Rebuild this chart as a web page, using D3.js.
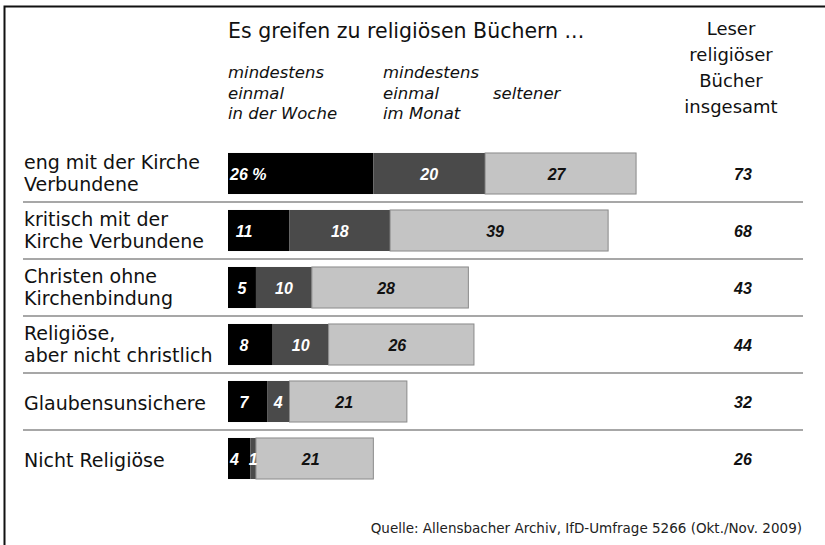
<!DOCTYPE html>
<html>
<head>
<meta charset="utf-8">
<script src="https://cdn.jsdelivr.net/npm/d3@7"></script>
<style>
  html, body { margin: 0; background: #fff; overflow: hidden; }
  svg { display: block; }
  svg text { font-family: "DejaVu Sans", sans-serif; }
  .val { font-family: "Liberation Sans", Arial, sans-serif; font-weight: bold; font-style: italic; font-size: 16px; }
</style>
</head>
<body>
<div class="container"></div>
<script>
// categories (row labels, split into lines)
var groups = [
  ["eng mit der Kirche", "Verbundene"],
  ["kritisch mit der", "Kirche Verbundene"],
  ["Christen ohne", "Kirchenbindung"],
  ["Religiöse,", "aber nicht christlich"],
  ["Glaubensunsichere"],
  ["Nicht Religiöse"]
];
var weekly  = [26, 11, 5, 8, 7, 4];
var monthly = [20, 18, 10, 10, 4, 1];
var rarely  = [27, 39, 28, 26, 21, 21];
var totals  = [73, 68, 43, 44, 32, 26];
var seriesLabels = [
  ["mindestens", "einmal", "in der Woche"],
  ["mindestens", "einmal", "im Monat"],
  ["", "seltener", ""]
];
var title = "Es greifen zu religiösen Büchern ...";
var totalHeader = ["Leser", "religiöser", "Bücher", "insgesamt"];
var source = "Quelle: Allensbacher Archiv, IfD-Umfrage 5266 (Okt./Nov. 2009)";

var width = 825, height = 545;
var svg = d3.select(".container").append("svg")
  .attr("width", width)
  .attr("height", height);

// frame (only top + left visible)
svg.append("rect")
  .attr("x", 4.5).attr("y", 6.5)
  .attr("width", 900).attr("height", 600)
  .attr("fill", "none").attr("stroke", "#111").attr("stroke-width", 2);

var x = d3.scaleLinear().domain([0, 100]).range([228, 787]);
var y = d3.scaleBand().domain(d3.range(groups.length))
  .range([145, 487]).paddingInner(0.28).paddingOuter(0.14);

var colors = ["#000000", "#4a4a4a", "#c4c4c4"];
var textColors = ["#fff", "#fff", "#111"];

// header
svg.append("text").attr("x", 228).attr("y", 38)
  .attr("font-size", 20.5).attr("fill", "#111").text(title);

var colX = [228, 383, 493];
seriesLabels.forEach(function (lines, i) {
  var t = svg.append("text").attr("font-size", 16.5).attr("font-style", "italic").attr("fill", "#111");
  lines.forEach(function (l, j) {
    t.append("tspan").attr("x", colX[i]).attr("y", 78 + j * 20.5).text(l);
  });
});

var hdr = svg.append("text").attr("text-anchor", "middle").attr("font-size", 18).attr("fill", "#111");
totalHeader.forEach(function (l, j) {
  hdr.append("tspan").attr("x", 731).attr("y", 35 + j * 26).text(l);
});

// separators
d3.range(groups.length - 1).forEach(function (i) {
  var sy = y(i + 1) - 8;
  svg.append("line").attr("x1", 23).attr("x2", 803).attr("y1", sy).attr("y2", sy)
    .attr("stroke", "#8a8a8a").attr("stroke-width", 1.5);
});

var rows = groups.map(function (g, i) {
  var v = [weekly[i], monthly[i], rarely[i]];
  var acc = 0;
  return v.map(function (d, k) {
    var seg = { row: i, k: k, v: d, x0: acc, x1: acc + d };
    acc += d;
    return seg;
  });
});

var g = svg.append("g");
rows.forEach(function (segs, i) {
  var rowG = g.append("g");
  rowG.selectAll("rect").data(segs).join("rect")
    .attr("x", function (d) { return x(d.x0); })
    .attr("y", y(i))
    .attr("width", function (d) { return x(d.x1) - x(d.x0); })
    .attr("height", y.bandwidth())
    .attr("fill", function (d) { return colors[d.k]; })
    .attr("stroke", function (d) { return d.k == 2 ? "#8a8a8a" : "none"; })
    .attr("stroke-width", 1);

  rowG.selectAll("text").data(segs).join("text")
    .attr("class", "val")
    .attr("x", function (d) {
      var a = x(d.x0), b = x(d.x1);
      if (d.k == 0) return i == 0 || segs[0].v < 5 ? a + 2 : Math.min((a + b) / 2, a + 16);
      if (d.k == 2) return (a + b) / 2 - 4;
      return (a + b) / 2;
    })
    .attr("y", y(i) + y.bandwidth() / 2 + 6)
    .attr("text-anchor", function (d) {
      return d.k == 0 && (i == 0 || d.v < 5) ? "start" : "middle";
    })
    .attr("fill", function (d) { return textColors[d.k]; })
    .text(function (d) { return i == 0 && d.k == 0 ? d.v + " %" : d.v; });

  // row label
  var cy = y(i) + y.bandwidth() / 2;
  var lines = groups[i];
  var lab = svg.append("text").attr("font-size", 19).attr("fill", "#111");
  lines.forEach(function (l, j) {
    lab.append("tspan").attr("x", 24)
      .attr("y", lines.length == 1 ? cy + 8 : cy - 5 + j * 22)
      .text(l);
  });

  svg.append("text").attr("class", "val")
    .attr("x", 743).attr("y", cy + 6)
    .attr("text-anchor", "middle").attr("fill", "#111")
    .text(totals[i]);
});

svg.append("text").attr("x", 802).attr("y", 533)
  .attr("text-anchor", "end").attr("font-size", 13.5).attr("fill", "#222").text(source);
</script>
</body>
</html>
